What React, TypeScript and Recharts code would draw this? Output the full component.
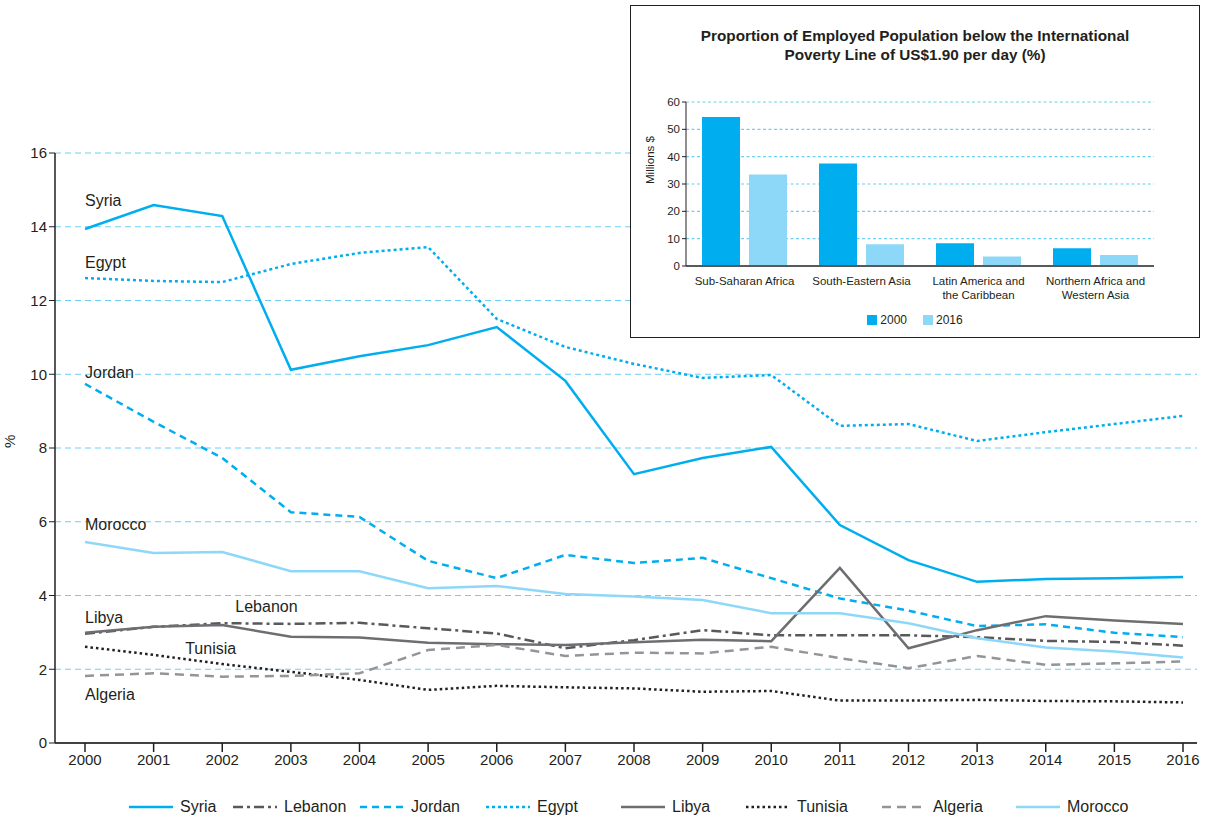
import React from "react";
import {
  LineChart,
  Line,
  XAxis,
  YAxis,
  CartesianGrid,
  ReferenceDot,
  BarChart,
  Bar,
} from "recharts";

const years = [2000, 2001, 2002, 2003, 2004, 2005, 2006, 2007, 2008, 2009, 2010, 2011, 2012, 2013, 2014, 2015, 2016];
const syria = [13.94, 14.59, 14.29, 10.12, 10.49, 10.79, 11.28, 9.82, 7.29, 7.73, 8.03, 5.91, 4.96, 4.37, 4.45, 4.47, 4.5];
const lebanon = [2.96, 3.15, 3.25, 3.23, 3.26, 3.11, 2.97, 2.57, 2.79, 3.06, 2.92, 2.92, 2.92, 2.87, 2.77, 2.74, 2.64];
const jordan = [9.74, 8.71, 7.73, 6.26, 6.13, 4.94, 4.47, 5.1, 4.88, 5.02, 4.47, 3.92, 3.59, 3.17, 3.22, 2.99, 2.87];
const egypt = [12.61, 12.53, 12.5, 12.99, 13.29, 13.45, 11.5, 10.74, 10.28, 9.9, 9.98, 8.6, 8.65, 8.19, 8.43, 8.65, 8.87];
const libya = [2.99, 3.15, 3.2, 2.88, 2.86, 2.72, 2.68, 2.66, 2.73, 2.8, 2.76, 4.75, 2.57, 3.06, 3.44, 3.32, 3.23];
const tunisia = [2.61, 2.39, 2.14, 1.93, 1.71, 1.44, 1.55, 1.51, 1.48, 1.39, 1.41, 1.15, 1.15, 1.17, 1.14, 1.13, 1.1];
const algeria = [1.82, 1.89, 1.8, 1.82, 1.89, 2.52, 2.66, 2.36, 2.45, 2.43, 2.61, 2.3, 2.03, 2.36, 2.12, 2.16, 2.21];
const morocco = [5.45, 5.15, 5.18, 4.66, 4.66, 4.2, 4.26, 4.04, 3.97, 3.88, 3.52, 3.52, 3.25, 2.84, 2.59, 2.48, 2.32];
const yTicks = [0, 2, 4, 6, 8, 10, 12, 14, 16];

// inline country names, anchored in data space
const annotations = [
  { name: "Syria", year: 2000, value: 14.73 },
  { name: "Egypt", year: 2000, value: 13.04 },
  { name: "Jordan", year: 2000, value: 10.06 },
  { name: "Morocco", year: 2000, value: 5.94 },
  { name: "Libya", year: 2000, value: 3.42 },
  { name: "Lebanon", year: 2002.19, value: 3.72 },
  { name: "Tunisia", year: 2001.46, value: 2.58 },
  { name: "Algeria", year: 2000, value: 1.33 },
];

// inset bar chart
const regions = ["Sub-Saharan Africa", "South-Eastern Asia", "Latin America and the Caribbean", "Northern Africa and Western Asia"];
const value2000 = [54.5, 37.5, 8.3, 6.5];
const value2016 = [33.5, 8.0, 3.5, 4.0];
const insetTicks = [0, 10, 20, 30, 40, 50, 60];

const BLUE = "#00aeef";
const LIGHT_BLUE = "#8dd8f8";
const TEXT = "#231f20";

const series = [
  { key: "Syria", values: syria, color: BLUE, dash: undefined },
  { key: "Lebanon", values: lebanon, color: "#58595b", dash: "10 4 3 4" },
  { key: "Jordan", values: jordan, color: BLUE, dash: "7 5" },
  { key: "Egypt", values: egypt, color: BLUE, dash: "3 3" },
  { key: "Libya", values: libya, color: "#6d6e71", dash: undefined },
  { key: "Tunisia", values: tunisia, color: TEXT, dash: "2.5 3" },
  { key: "Algeria", values: algeria, color: "#939598", dash: "9 6" },
  { key: "Morocco", values: morocco, color: LIGHT_BLUE, dash: undefined },
];

// left edge of each legend entry
const legendLeft = [129, 233, 360, 486, 621, 746, 882, 1016];

const lineData = years.map((year, i) => {
  const row: Record<string, number> = { year };
  series.forEach((s) => (row[s.key] = s.values[i]));
  return row;
});

const barData = regions.map((region, i) => ({ region, y2000: value2000[i], y2016: value2016[i] }));

function wrap(text: string, max: number) {
  const lines: string[] = [];
  let cur = "";
  text.split(" ").forEach((w) => {
    if (cur && (cur + " " + w).length > max) {
      lines.push(cur);
      cur = w;
    } else {
      cur = cur ? cur + " " + w : w;
    }
  });
  if (cur) lines.push(cur);
  return lines;
}

const RegionTick = (props: any) => {
  const { x, y, payload } = props;
  const lines = wrap(payload.value, 19);
  return (
    <text x={x} y={y + 11} textAnchor="middle" fontSize={11.5} fill={TEXT}>
      {lines.map((l, i) => (
        <tspan key={i} x={x} dy={i === 0 ? 0 : 13.5}>
          {l}
        </tspan>
      ))}
    </text>
  );
};

function Inset() {
  return (
    <div
      style={{
        position: "absolute",
        left: 630,
        top: 5,
        width: 568,
        height: 331,
        border: "1.5px solid #231f20",
        background: "#fff",
      }}
    >
      <div
        style={{
          position: "absolute",
          left: 0,
          top: 20,
          width: 568,
          textAlign: "center",
          fontWeight: "bold",
          fontSize: 15.3,
          lineHeight: "19px",
          color: TEXT,
        }}
      >
        Proportion of Employed Population below the International
        <br />
        Poverty Line of US$1.90 per day (%)
      </div>
      <div style={{ position: "absolute", left: 0, top: 0 }}>
        <BarChart
          width={568}
          height={304}
          data={barData}
          margin={{ top: 96, right: 45, bottom: 0, left: 0 }}
          barSize={38}
          barGap={9}
        >
          <CartesianGrid vertical={false} stroke="#6dcff6" strokeDasharray="3 2.5" strokeWidth={1.2} />
          <XAxis
            dataKey="region"
            tick={<RegionTick />}
            tickLine={false}
            axisLine={{ stroke: "#58595b", strokeWidth: 2 }}
            interval={0}
            height={44}
          />
          <YAxis
            domain={[0, 60]}
            ticks={insetTicks}
            width={55}
            tick={{ fontSize: 11.5, fill: TEXT }}
            tickSize={4}
            tickLine={{ stroke: TEXT }}
            axisLine={{ stroke: TEXT }}
            label={{ value: "Millions $", angle: -90, position: "insideLeft", offset: 19, style: { fontSize: 11.5, fill: TEXT } }}
          />
          <Bar dataKey="y2000" fill={BLUE} isAnimationActive={false} />
          <Bar dataKey="y2016" fill={LIGHT_BLUE} isAnimationActive={false} />
        </BarChart>
      </div>
      <div
        style={{
          position: "absolute",
          left: 0,
          top: 307,
          width: 568,
          display: "flex",
          justifyContent: "center",
          gap: 16,
          fontSize: 12,
          color: TEXT,
        }}
      >
        {[
          { label: "2000", color: BLUE },
          { label: "2016", color: LIGHT_BLUE },
        ].map((d) => (
          <span key={d.label} style={{ display: "flex", alignItems: "center", gap: 3 }}>
            <span style={{ width: 10, height: 10, background: d.color, display: "inline-block" }} />
            {d.label}
          </span>
        ))}
      </div>
    </div>
  );
}

function MainLegend() {
  return (
    <div style={{ position: "absolute", left: 0, top: 798, width: 1210, height: 22, fontSize: 16, color: TEXT }}>
      {series.map((s, i) => (
        <span
          key={s.key}
          style={{ position: "absolute", left: legendLeft[i], top: 0, display: "flex", alignItems: "center", gap: 7 }}
        >
          <svg width={44} height={6}>
            <line x1={0} y1={3} x2={44} y2={3} stroke={s.color} strokeWidth={2.5} strokeDasharray={s.dash} />
          </svg>
          {s.key}
        </span>
      ))}
    </div>
  );
}

export default function App() {
  return (
    <div
      style={{
        position: "absolute",
        left: 0,
        top: 0,
        width: 1210,
        height: 822,
        background: "#fff",
        fontFamily: "'Liberation Sans', Arial, sans-serif",
      }}
    >
      <LineChart width={1210} height={822} data={lineData} margin={{ top: 153, right: 13, bottom: 49, left: 0 }}>
        <CartesianGrid vertical={false} stroke="#6dcff6" strokeDasharray="6 4" />
        <XAxis
          dataKey="year"
          type="number"
          domain={[2000, 2016]}
          ticks={years}
          padding={{ left: 30, right: 14 }}
          tick={{ fontSize: 15, fill: TEXT }}
          tickSize={9}
          tickLine={{ stroke: TEXT, strokeWidth: 1.5 }}
          axisLine={{ stroke: "#414042", strokeWidth: 2 }}
          height={30}
        />
        <YAxis
          domain={[0, 16]}
          ticks={yTicks}
          width={55}
          tick={{ fontSize: 15, fill: TEXT }}
          tickSize={6}
          tickLine={{ stroke: TEXT }}
          axisLine={{ stroke: TEXT, strokeWidth: 1.5 }}
          label={{ value: "%", angle: -90, position: "insideLeft", offset: 10, style: { fontSize: 15, fill: TEXT } }}
        />
        {series.map((s) => (
          <Line
            key={s.key}
            dataKey={s.key}
            stroke={s.color}
            strokeWidth={2.5}
            strokeDasharray={s.dash}
            dot={false}
            activeDot={false}
            type="linear"
            isAnimationActive={false}
          />
        ))}
        {annotations.map((a) => (
          <ReferenceDot
            key={a.name}
            x={a.year}
            y={a.value}
            r={0}
            fill="none"
            stroke="none"
            label={{ value: a.name, position: "right", offset: 0, fontSize: 16, fill: TEXT }}
          />
        ))}
      </LineChart>
      <Inset />
      <MainLegend />
    </div>
  );
}
